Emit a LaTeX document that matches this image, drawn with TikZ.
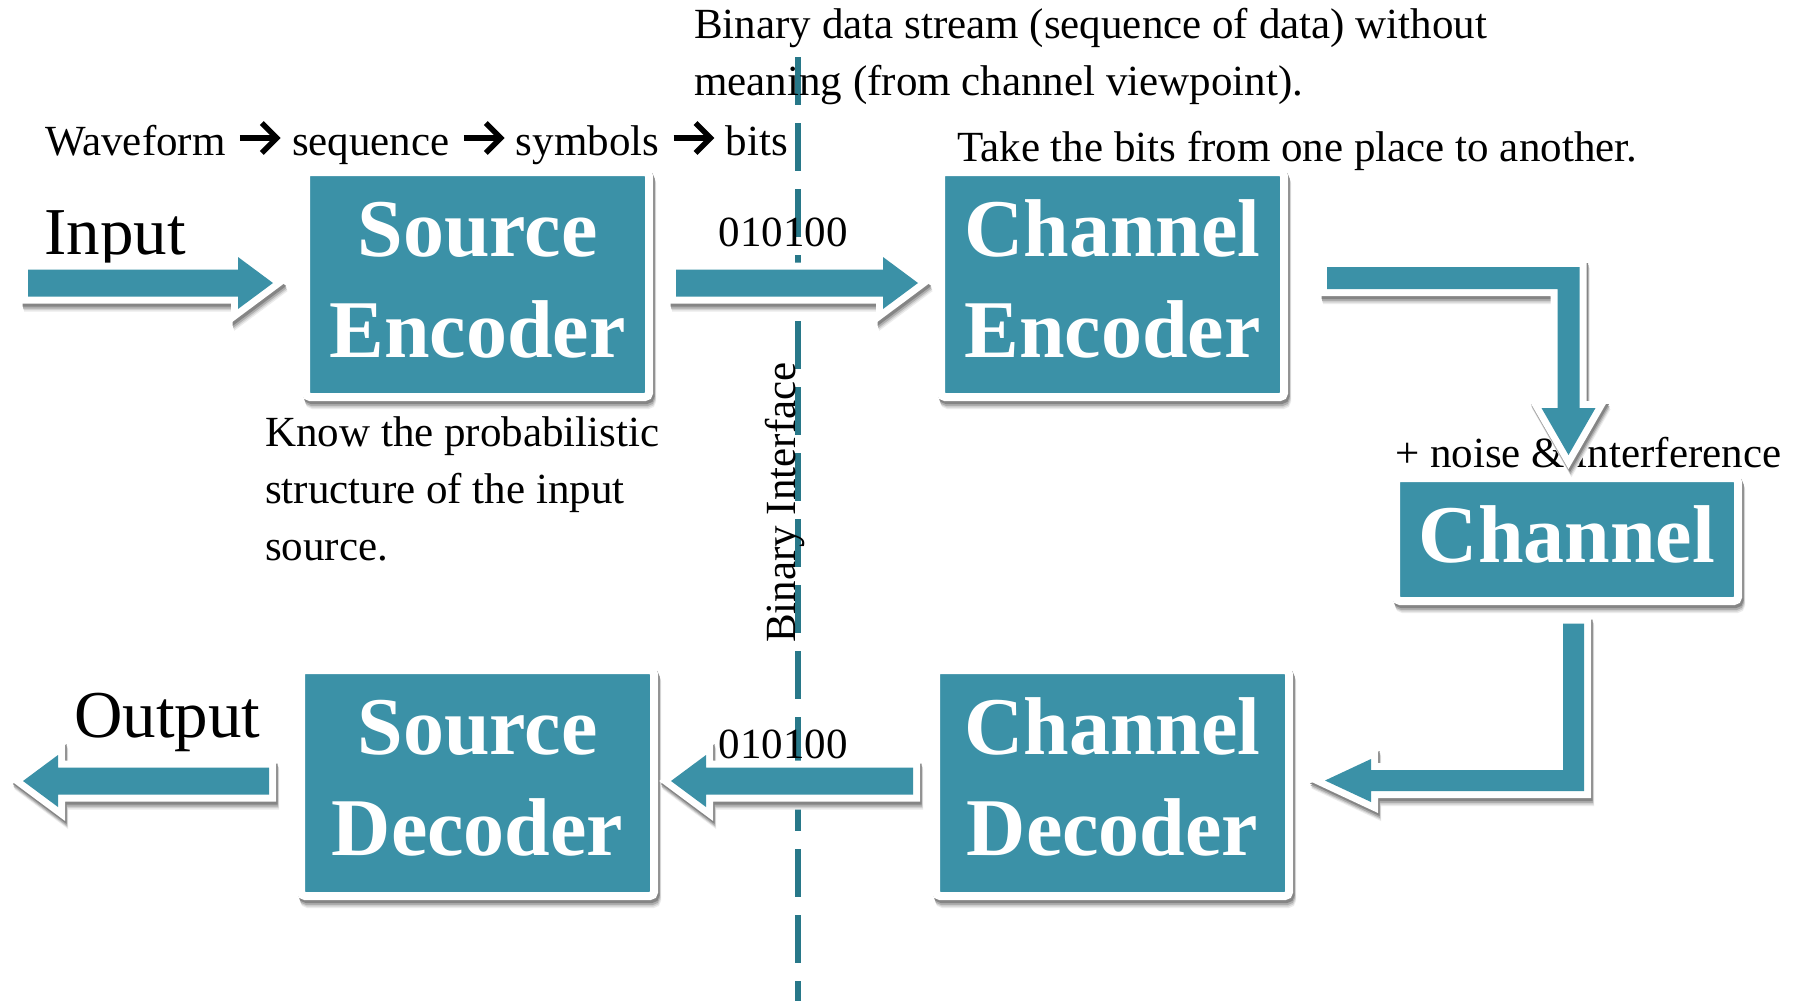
\documentclass[tikz,border=0pt]{standalone}
\usepackage{fontspec}
\setmainfont{Liberation Serif}
\usetikzlibrary{calc}

\definecolor{blockteal}{RGB}{59,145,167}
\definecolor{guideteal}{RGB}{40,120,137}

\tikzset{
  softshadow/.style={
    preaction={draw=black!8,  fill=black!8,  transform canvas={shift={(3pt,-8pt)}}},
    preaction={draw=black!18, fill=black!18, transform canvas={shift={(2.5pt,-6.5pt)}}},
    preaction={draw=black!32, fill=black!32, transform canvas={shift={(2pt,-5pt)}}},
    preaction={draw=black!48, fill=black!48, transform canvas={shift={(1.5pt,-3pt)}}}},
  block/.style={rectangle, softshadow, fill=blockteal, draw=white, line width=8pt,
    rounded corners=4pt, inner sep=0pt},
  blocktext/.style={text=white, font=\bfseries\fontsize{82}{98}\selectfont,
    inner sep=0pt, anchor=base},
  note/.style={font=\fontsize{43}{51}\selectfont, inner sep=0pt, anchor=base west},
  bignote/.style={font=\fontsize{67}{79}\selectfont, inner sep=0pt, anchor=base west},
  rimshape/.style={line width=14pt, line join=miter, miter limit=20},
  arrowrim/.style={rimshape, fill=white, draw=white},
  arrowbody/.style={fill=blockteal},
  chev/.style={line width=5.5pt, line join=miter, line cap=butt},
  guide/.style={draw=guideteal, line width=6pt, dash pattern=on 48pt off 18pt},
}

% white-rimmed block arrow with a soft shadow, along a closed outline
\newcommand\fatarrow[1]{%
  \foreach \dx/\dy/\shade in {3/8/8, 2.5/6.5/18, 2/5/32, 1.5/3/48}{%
    \begin{scope}[transform canvas={shift={(\dx pt,-\dy pt)}}]
      \path[rimshape, draw=black!\shade, fill=black!\shade] #1;
    \end{scope}}
  \path[arrowrim] #1; \path[arrowbody] #1;}
% straight block arrow: tail, tip, direction (+1 right, -1 left)
\newcommand\straightarrow[3]{%
  \fatarrow{($(#1)+(0,-13.5)$) -- ($(#2)+({-35*#3},-13.5)$) -- ($(#2)+({-35*#3},-26)$)
    -- (#2) -- ($(#2)+({-35*#3},26)$) -- ($(#2)+({-35*#3},13.5)$)
    -- ($(#1)+(0,13.5)$) -- cycle}}
% bold chevron arrow between two words of a note
\newcommand\chevron[2]{%
  \draw[chev] ($(#1.base east)+(14,-17)$) -- ($(#2.base west)+(-15,-17)$);
  \draw[chev] ($(#2.base west)+(-30,-32)$) -- ($(#2.base west)+(-15,-17)$)
    -- ($(#2.base west)+(-30,-2)$);}

\begin{document}
\begin{tikzpicture}[x=1pt,y=-1pt]
\path[use as bounding box, fill=white] (0,0) rectangle (1806,1001);

% binary interface
\coordinate (gtop) at (798,57);
\coordinate (gbot) at (798,1001);
\draw[guide] (gtop) -- (gbot);

% blocks
\node[block, minimum width=343pt, minimum height=225pt] (srcenc) at (477.5,284.5) {};
\node[block, minimum width=343pt, minimum height=225pt] (chenc)  at (1112.5,284.5) {};
\node[block, minimum width=342pt, minimum height=123pt] (chan)   at (1567,539.5) {};
\node[block, minimum width=353pt, minimum height=226pt] (srcdec) at (477.5,783) {};
\node[block, minimum width=353pt, minimum height=226pt] (chdec)  at (1112.5,783) {};

% block captions
\node[blocktext] (srcenc-a) at ($(srcenc.center)+(0,-28.5)$) {Source};
\node[blocktext] (srcenc-b) at ($(srcenc.center)+(0,72.5)$)  {Encoder};
\node[blocktext] (chenc-a)  at ($(chenc.center)+(0,-28.5)$)  {Channel};
\node[blocktext] (chenc-b)  at ($(chenc.center)+(0,72.5)$)   {Encoder};
\node[blocktext] (chan-a)   at ($(chan.center)+(0,22.5)$)    {Channel};
\node[blocktext] (srcdec-a) at ($(srcdec.center)+(0,-29)$)   {Source};
\node[blocktext] (srcdec-b) at ($(srcdec.center)+(0,72)$)    {Decoder};
\node[blocktext] (chdec-a)  at ($(chdec.center)+(0,-29)$)    {Channel};
\node[blocktext] (chdec-b)  at ($(chdec.center)+(0,72)$)     {Decoder};

% signal chain note
\node[note] (wf)  at (45,155) {Waveform};
\node[note] (sq)  at ($(wf.base east)+(66,0)$) {sequence};
\node[note] (sy)  at ($(sq.base east)+(66,0)$) {symbols};
\node[note] (bt)  at ($(sy.base east)+(66,0)$) {bits};
\chevron{wf}{sq}
\chevron{sq}{sy}
\chevron{sy}{bt}

% other notes
\node[bignote] (in)  at (44,254) {Input};
\node[bignote, anchor=base] (out) at (167.5,737) {Output};
\node[note] (bds1) at (694,38) {Binary data stream (sequence of data) without};
\node[note] (bds2) at (694,95) {meaning (from channel viewpoint).};
\node[note] (take) at (957,161) {Take the bits from one place to another.};
\node[note] (know1) at (265,446) {Know the probabilistic};
\node[note] (know2) at (265,503) {structure of the input};
\node[note] (know3) at (265,560) {source.};
\node[note] (noise) at (1395,467) {+ noise \& interference};
\node[note, anchor=base] (bits1) at (783,246) {010100};
\node[note, anchor=base] (bits2) at (783,758) {010100};
\node[note, rotate=90] (bif) at (795,643) {Binary Interface};

% straight block arrows
\coordinate (a1tail) at (28,283);
\coordinate (a1tip)  at ($(srcenc.west)+(-29,-1.5)$);
\coordinate (a2tail) at ($(srcenc.east)+(23,-1.5)$);
\coordinate (a2tip)  at ($(chenc.west)+(-19,-1.5)$);
\coordinate (a3tail) at ($(chdec.west)+(-19,-2)$);
\coordinate (a3tip)  at ($(srcdec.east)+(13,-2)$);
\coordinate (a4tail) at ($(srcdec.west)+(-28,-2)$);
\coordinate (a4tip)  at (23,781);
\straightarrow{a1tail}{a1tip}{1}
\straightarrow{a2tail}{a2tip}{1}
\straightarrow{a3tail}{a3tip}{-1}
\straightarrow{a4tail}{a4tip}{-1}

% bent arrow: channel encoder to channel
\coordinate (b1tail) at ($(chenc.east)+(39,-6.5)$);
\coordinate (b1tip)  at ($(chan.north)+(1.5,-19)$);
\coordinate (b1bend) at (b1tip |- b1tail);
\fatarrow{($(b1tail)+(0,-11)$) -- ($(b1bend)+(11,-11)$) -- ($(b1tip)+(11,-47)$)
  -- ($(b1tip)+(27,-47)$) -- (b1tip) -- ($(b1tip)+(-27,-47)$) -- ($(b1tip)+(-11,-47)$)
  -- ($(b1bend)+(-11,11)$) -- ($(b1tail)+(0,11)$) -- cycle}

% bent arrow: channel to channel decoder
\coordinate (b2tail) at ($(chan.south)+(6.5,18.5)$);
\coordinate (b2tip)  at ($(chdec.east)+(32,-2.5)$);
\coordinate (b2bend) at (b2tail |- b2tip);
\fatarrow{($(b2tail)+(-10.5,0)$) -- ($(b2tail)+(10.5,0)$) -- ($(b2bend)+(10.5,10.5)$)
  -- ($(b2tip)+(46,10.5)$) -- ($(b2tip)+(46,21.5)$) -- (b2tip) -- ($(b2tip)+(46,-21.5)$)
  -- ($(b2tip)+(46,-10.5)$) -- ($(b2bend)+(-10.5,-10.5)$) -- cycle}
\end{tikzpicture}
\end{document}
